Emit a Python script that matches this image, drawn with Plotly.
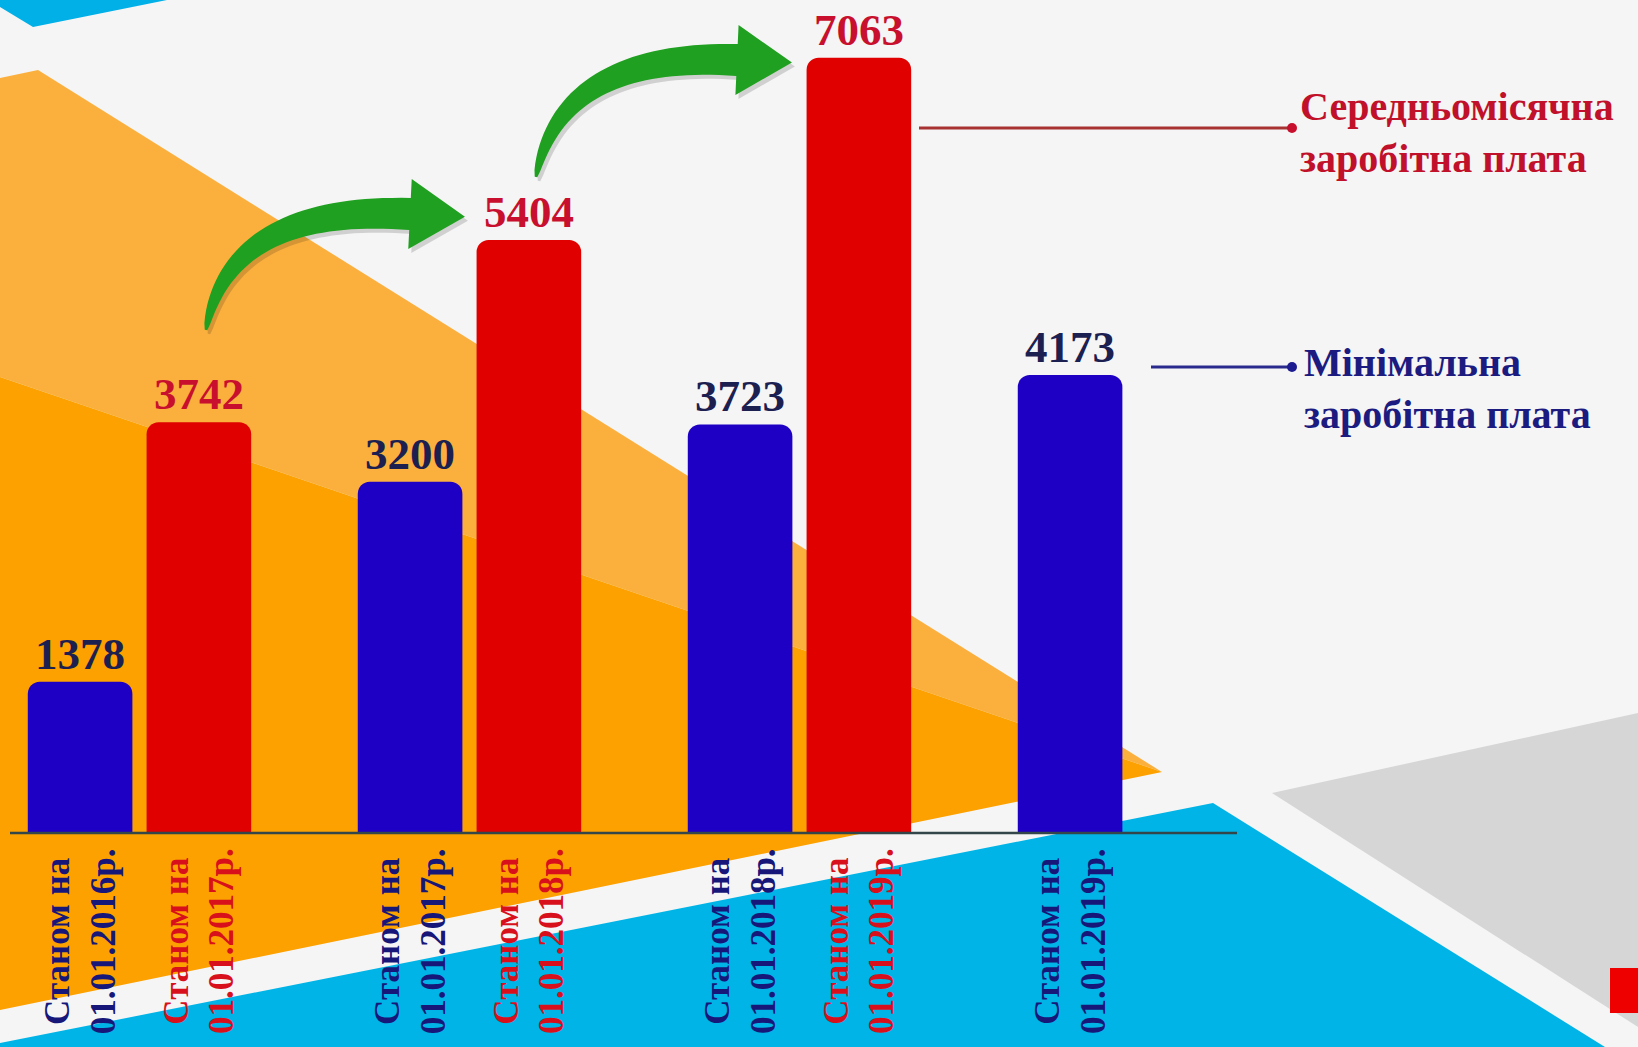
import numpy as np
import plotly.graph_objects as go

W, H = 1638, 1047

# ---------------- data ----------------
min_dates = ["01.01.2016р.", "01.01.2017р.", "01.01.2018р.", "01.01.2019р."]
min_wage = [1378, 3200, 3723, 4173]
avg_dates = ["01.01.2017р.", "01.01.2018р.", "01.01.2019р."]
avg_wage = [3742, 5404, 7063]
label_prefix = "Станом на"
legend_avg = "Середньомісячна<br>заробітна плата"
legend_min = "Мінімальна<br>заробітна плата"

# ---------------- styles ----------------
BLUE = "#1d00c4"
RED = "#e00000"
BLUE_TXT = "#1c2050"
RED_TXT = "#c8102e"
BLUE_TICK = "#17177a"
RED_TICK = "#d8101c"
GREEN = "#20a020"
FONT = "Liberation Serif"

OFF = 0.18
BW = 0.317
x_min = [g - OFF for g in range(len(min_wage))]
x_avg = [g + OFF for g in range(len(avg_wage))]


def px(x):
    return x / W


def py(y):
    return 1 - y / H


def poly_path(pts):
    return "M " + " L ".join(f"{px(x):.5f},{py(y):.5f}" for x, y in pts) + " Z"


def arrow_pts(p0, p1, p2, wmax, head_half, head_len, n=40):
    p0, p1, p2 = map(np.array, (p0, p1, p2))
    up, lo = [], []
    for t in np.linspace(0, 1, n):
        pt = (1 - t) ** 2 * p0 + 2 * (1 - t) * t * p1 + t ** 2 * p2
        d = 2 * (1 - t) * (p1 - p0) + 2 * t * (p2 - p1)
        d = d / np.linalg.norm(d)
        nrm = np.array([d[1], -d[0]])
        w = wmax * (0.08 + 0.92 * t ** 0.6) / 2
        up.append(pt + nrm * w)
        lo.append(pt - nrm * w)
    d = (p2 - p1) / np.linalg.norm(p2 - p1)
    nrm = np.array([d[1], -d[0]])
    head = [p2 + nrm * head_half, p2 + d * head_len, p2 - nrm * head_half]
    pts = up + head + lo[::-1]
    return [(float(a), float(b)) for a, b in pts]


shapes = []
# background decoration
bg_polys = [
    ([(0, 0), (167, 0), (33, 27), (0, 7)], "#00b0e6"),
    ([(0, 78), (38, 70), (1162, 772), (0, 377)], "#fbb03e"),
    ([(0, 377), (1162, 772), (0, 1010)], "#fca100"),
    ([(0, 1047), (0, 1043), (1213, 803), (1605, 1047)], "#00b4e8"),
    ([(1272, 793), (1638, 713), (1638, 1027)], "#d6d6d6"),
    ([(1610, 968), (1638, 968), (1638, 1013), (1610, 1013)], "#ee0000"),
]
for pts, col in bg_polys:
    shapes.append(dict(type="path", xref="paper", yref="paper", path=poly_path(pts),
                       fillcolor=col, line=dict(width=0), layer="below"))

# axis baseline
shapes.append(dict(type="line", xref="paper", yref="paper", x0=px(10), x1=px(1237),
                   y0=py(833), y1=py(833), line=dict(color="#33464a", width=2.5), layer="above"))

# green arrows (with soft shadow)
arrows = [
    ((206, 330), (228, 205), (410, 214)),
    ((536, 177), (560, 52), (737, 60)),
]
for p0, p1, p2 in arrows:
    pts = arrow_pts(p0, p1, p2, 32, 35, 55)
    sh = [(a + 3, b + 4) for a, b in pts]
    shapes.append(dict(type="path", xref="paper", yref="paper", path=poly_path(sh),
                       fillcolor="rgba(0,0,0,0.15)", line=dict(width=0), layer="above"))
    shapes.append(dict(type="path", xref="paper", yref="paper", path=poly_path(pts),
                       fillcolor=GREEN, line=dict(width=0), layer="above"))

# legend leader lines
shapes.append(dict(type="line", xref="paper", yref="paper", x0=px(919), x1=px(1292),
                   y0=py(128), y1=py(128), line=dict(color="#a83232", width=3)))
shapes.append(dict(type="circle", xref="paper", yref="paper", x0=px(1287), x1=px(1297),
                   y0=py(123), y1=py(133), fillcolor="#c8102e", line=dict(width=0)))
shapes.append(dict(type="line", xref="paper", yref="paper", x0=px(1151), x1=px(1292),
                   y0=py(367), y1=py(367), line=dict(color="#2a2a8c", width=3)))
shapes.append(dict(type="circle", xref="paper", yref="paper", x0=px(1287), x1=px(1297),
                   y0=py(362), y1=py(372), fillcolor="#1c1c90", line=dict(width=0)))

fig = go.Figure()
fig.add_trace(go.Bar(
    x=x_min, y=min_wage, width=BW, marker=dict(color=BLUE, line=dict(width=0)),
    text=[str(v) for v in min_wage], textposition="outside", constraintext="none",
    textfont=dict(family=FONT, size=45, color=BLUE_TXT, weight="bold"),
    cliponaxis=False, name="Мінімальна заробітна плата",
))
fig.add_trace(go.Bar(
    x=x_avg, y=avg_wage, width=BW, marker=dict(color=RED, line=dict(width=0)),
    text=[str(v) for v in avg_wage], textposition="outside", constraintext="none",
    textfont=dict(family=FONT, size=45, color=RED_TXT, weight="bold"),
    cliponaxis=False, name="Середньомісячна заробітна плата",
))

annotations = []
for xv, d in zip(x_min, min_dates):
    annotations.append(dict(x=xv, xref="x", y=0.1012, yref="paper", text=f"{label_prefix}<br>{d}",
                            textangle=-90, showarrow=False, xanchor="center", yanchor="middle",
                            font=dict(family=FONT, size=35, color=BLUE_TICK, weight="bold")))
for xv, d in zip(x_avg, avg_dates):
    annotations.append(dict(x=xv, xref="x", y=0.1012, yref="paper", text=f"{label_prefix}<br>{d}",
                            textangle=-90, showarrow=False, xanchor="center", yanchor="middle",
                            font=dict(family=FONT, size=35, color=RED_TICK, weight="bold")))

annotations.append(dict(x=px(1298), y=py(82), xref="paper", yref="paper", text=legend_avg,
                        showarrow=False, xanchor="left", yanchor="top", align="left",
                        font=dict(family=FONT, size=40, color="#c0102a", weight="bold")))
annotations.append(dict(x=px(1302), y=py(338), xref="paper", yref="paper", text=legend_min,
                        showarrow=False, xanchor="left", yanchor="top", align="left",
                        font=dict(family=FONT, size=40, color="#1c1c80", weight="bold")))

fig.update_layout(
    width=W, height=H,
    margin=dict(l=0, r=0, t=0, b=0, pad=0),
    paper_bgcolor="#f5f5f5",
    plot_bgcolor="rgba(0,0,0,0)",
    showlegend=False,
    barmode="overlay",
    barcornerradius=12,
    xaxis=dict(range=[-0.4227, 4.541], domain=[0, 1], visible=False, fixedrange=True),
    yaxis=dict(range=[0, 7590], domain=[0.2044, 1], visible=False, fixedrange=True),
    shapes=shapes,
    annotations=annotations,
)

fig.write_html(
    "out.html",
    config={"displayModeBar": False},
    post_script="document.body.style.margin='0';document.body.style.overflow='hidden';"
                "document.documentElement.style.overflow='hidden';",
)
